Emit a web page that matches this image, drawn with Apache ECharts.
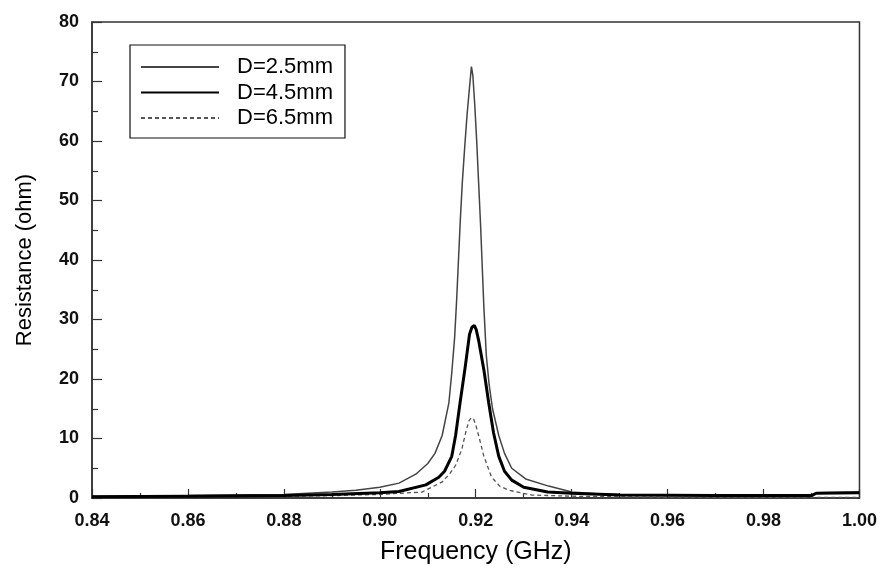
<!DOCTYPE html>
<html>
<head>
<meta charset="utf-8">
<title>Resistance vs Frequency</title>
<script src="https://cdn.jsdelivr.net/npm/echarts@6/dist/echarts.min.js"></script>
<style>
  html, body { margin: 0; padding: 0; background: #fff; }
  #chart { width: 880px; height: 570px; }
</style>
</head>
<body>
<div id="chart"></div>
<script>
  // series names (legend)
  const seriesNames = ['D=2.5mm', 'D=4.5mm', 'D=6.5mm'];

  // D=2.5mm, frequency (GHz) / resistance (ohm)
  const freq25 = [0.840, 0.860, 0.870, 0.880, 0.885, 0.890, 0.895, 0.900, 0.904, 0.9075, 0.910, 0.9115,
    0.913, 0.9144, 0.915, 0.9156, 0.916, 0.9164, 0.9168, 0.9172, 0.9177, 0.9182, 0.9187, 0.9191,
    0.9194, 0.9198, 0.9202, 0.9206, 0.9210, 0.9213, 0.9217, 0.9222, 0.9228, 0.9235, 0.9248, 0.9260,
    0.9275, 0.9304, 0.9352, 0.940, 0.945, 0.950, 0.960, 0.970, 0.980, 0.990, 0.991, 1.000];
  const res25 = [0.3, 0.4, 0.5, 0.6, 0.8, 1.0, 1.3, 1.8, 2.5, 4.0, 5.8, 7.5,
    10.5, 16, 21, 27, 33, 40, 47, 53, 59, 64.5, 69, 72.5,
    71, 66, 60, 53, 46, 40, 32, 24, 19, 15, 10.5, 7.5,
    5.0, 3.2, 2.0, 1.0, 0.7, 0.6, 0.5, 0.5, 0.5, 0.5, 0.9, 1.0];

  // D=4.5mm
  const freq45 = [0.840, 0.860, 0.880, 0.890, 0.900, 0.904, 0.9096, 0.9123, 0.9135, 0.915, 0.9158,
    0.9168, 0.9178, 0.9187, 0.9192, 0.9197, 0.9201, 0.9206, 0.9217, 0.9227, 0.9237, 0.9248, 0.9260,
    0.9275, 0.930, 0.935, 0.940, 0.950, 0.970, 0.990, 0.991, 1.000];
  const res45 = [0.2, 0.3, 0.4, 0.6, 0.9, 1.1, 2.2, 3.5, 4.5, 7.0, 10.5,
    16.4, 22, 27.5, 28.7, 29, 28.3, 26.5, 21.5, 16, 11, 7.0, 4.5,
    3.0, 1.8, 1.0, 0.8, 0.5, 0.4, 0.4, 0.8, 0.9];

  // D=6.5mm
  const freq65 = [0.840, 0.860, 0.880, 0.890, 0.900, 0.9088, 0.913, 0.9145, 0.9158, 0.9171, 0.9179,
    0.9186, 0.9191, 0.9196, 0.9201, 0.9206, 0.9217, 0.9233, 0.925, 0.9269, 0.9317, 0.940, 0.950,
    0.960, 1.000];
  const res65 = [0.1, 0.2, 0.3, 0.4, 0.6, 1.0, 2.7, 4.0, 5.5, 8.2, 11,
    13, 13.5, 13.2, 12.0, 10.5, 7.0, 3.5, 2.0, 1.3, 0.5, 0.3, 0.2,
    0.1, 0.1];

  const zip = (xs, ys) => xs.map((x, i) => [x, ys[i]]);

  const fontFamily = '"Liberation Sans", Arial, sans-serif';
  const chart = echarts.init(document.getElementById('chart'), null, { renderer: 'canvas' });

  const option = {
    animation: false,
    backgroundColor: '#fff',
    grid: {
      left: 92,
      right: 19,
      top: 22,
      bottom: 72,
      show: true,
      borderColor: '#333',
      borderWidth: 1.5,
    },
    legend: {
      orient: 'vertical',
      left: 130,
      top: 45,
      padding: [11, 12, 9, 10],
      itemGap: 3.5,
      itemWidth: 78,
      itemHeight: 14,
      borderColor: '#111',
      borderWidth: 1.2,
      backgroundColor: '#fff',
      // hide the symbol, keep only the line sample
      itemStyle: { opacity: 0 },
      textStyle: {
        fontFamily,
        fontSize: 22,
        lineHeight: 22,
        color: '#000',
        padding: [0, 0, 0, 13],
      },
      data: seriesNames,
    },
    xAxis: {
      type: 'value',
      min: 0.84,
      max: 1.0,
      interval: 0.02,
      name: 'Frequency (GHz)',
      nameLocation: 'middle',
      nameGap: 42,
      nameTextStyle: { fontFamily, fontSize: 25, color: '#000' },
      axisLine: { show: true, onZero: false, lineStyle: { color: '#333', width: 1.5 } },
      axisTick: { inside: true, length: 9, lineStyle: { color: '#333', width: 1.2 } },
      minorTick: { show: true, splitNumber: 2, length: 5, lineStyle: { color: '#333', width: 1.2 } },
      splitLine: { show: false },
      axisLabel: {
        fontFamily,
        fontSize: 18,
        fontWeight: 'bold',
        color: '#111',
        margin: 14,
        formatter: (v) => v.toFixed(2),
      },
    },
    yAxis: {
      type: 'value',
      min: 0,
      max: 80,
      interval: 10,
      name: 'Resistance (ohm)',
      nameLocation: 'middle',
      nameGap: 56,
      nameTextStyle: { fontFamily, fontSize: 22, color: '#000' },
      axisLine: { show: true, lineStyle: { color: '#333', width: 1.5 } },
      axisTick: { inside: true, length: 10, lineStyle: { color: '#333', width: 1.2 } },
      minorTick: { show: true, splitNumber: 2, length: 6, lineStyle: { color: '#333', width: 1.2 } },
      splitLine: { show: false },
      axisLabel: {
        fontFamily,
        fontSize: 18,
        fontWeight: 'bold',
        color: '#111',
        margin: 13,
      },
    },
    series: [
      {
        name: seriesNames[0],
        type: 'line',
        symbol: 'none',
        data: zip(freq25, res25),
        lineStyle: { color: '#444', width: 1.5 },
        itemStyle: { color: '#444' },
        z: 3,
      },
      {
        name: seriesNames[1],
        type: 'line',
        symbol: 'none',
        data: zip(freq45, res45),
        lineStyle: { color: '#000', width: 3 },
        itemStyle: { color: '#000' },
        z: 4,
      },
      {
        name: seriesNames[2],
        type: 'line',
        symbol: 'none',
        data: zip(freq65, res65),
        lineStyle: { color: '#555', width: 1.3, type: [4, 3] },
        itemStyle: { color: '#555' },
        z: 2,
      },
    ],
  };

  chart.setOption(option);
  window.addEventListener('resize', () => chart.resize());
</script>
</body>
</html>
